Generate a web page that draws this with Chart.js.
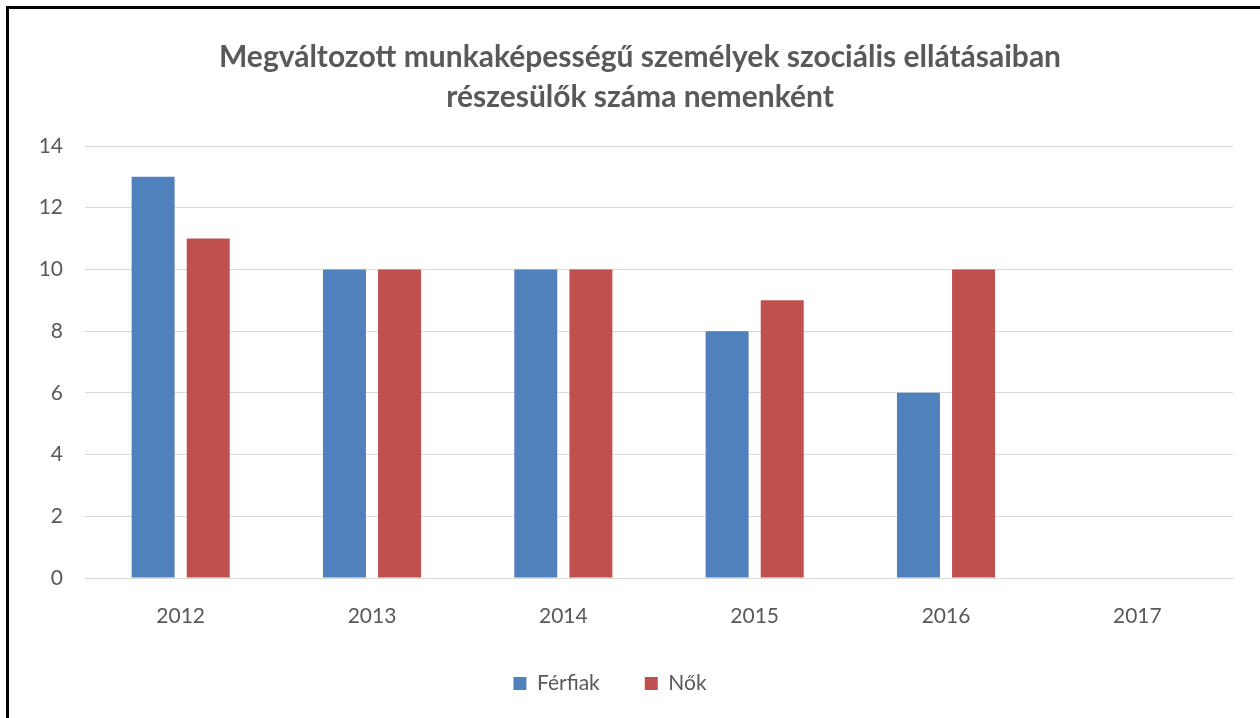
<!DOCTYPE html>
<html>
<head>
<meta charset="utf-8">
<script src="https://cdn.jsdelivr.net/npm/chart.js@4/dist/chart.umd.min.js"></script>
<style>
  html, body { margin: 0; padding: 0; background: #fff; overflow: hidden; }
  #wrap { position: relative; width: 1260px; height: 718px; }
  #frame { position: absolute; left: 6px; top: 6px; width: 1300px; height: 800px; border: 3px solid #000; box-sizing: border-box; pointer-events: none; }
</style>
</head>
<body>
<div id="wrap">
  <canvas id="chart" width="1260" height="718"></canvas>
  <div id="frame"></div>
</div>
<script>
var years = ['2012', '2013', '2014', '2015', '2016', '2017'];
var ferfiak = [13, 10, 10, 8, 6, null];
var nok = [11, 10, 10, 9, 10, null];
var titleLines = ['Megváltozott munkaképességű személyek szociális ellátásaiban', 'részesülők száma nemenként'];

var textColor = '#595959';
var fontFamily = 'Lato, "Open Sans", sans-serif';

// legend sits a bit left of centre in the original
var legendShift = {
    id: 'legendShift',
    afterLayout: function(chart) {
        chart.legend.left -= 30;
        chart.legend.right -= 30;
    }
};

var ctx = document.getElementById('chart').getContext('2d');
new Chart(ctx, {
    type: 'bar',
    data: {
        labels: years,
        datasets: [{
            label: 'Férfiak',
            data: ferfiak,
            backgroundColor: '#4F81BD'
        }, {
            label: 'Nők',
            data: nok,
            backgroundColor: '#C0504D'
        }]
    },
    options: {
        responsive: false,
        animation: false,
        categoryPercentage: 0.576,
        barPercentage: 0.78,
        layout: { padding: { left: 20, right: 0, top: 0, bottom: 14 } },
        plugins: {
            title: {
                display: true,
                text: titleLines,
                color: textColor,
                font: { family: fontFamily, size: 30, weight: 'bold', lineHeight: 40 / 30 },
                padding: { top: 37, bottom: 29 }
            },
            legend: {
                position: 'bottom',
                labels: {
                    color: textColor,
                    font: { family: fontFamily, size: 21 },
                    boxWidth: 13,
                    boxHeight: 13,
                    padding: 45
                }
            },
            tooltip: { enabled: false }
        },
        scales: {
            x: {
                grid: { display: false },
                border: { color: '#D9D9D9' },
                ticks: { color: textColor, font: { family: fontFamily, size: 21, lineHeight: 1 }, padding: 20 },
                afterFit: function(scale) { scale.height = 50; }
            },
            y: {
                min: 0,
                max: 14,
                ticks: { stepSize: 2, color: textColor, font: { family: fontFamily, size: 21 }, padding: 22 },
                grid: { color: '#D9D9D9', drawTicks: false },
                border: { display: false },
                afterFit: function(scale) { scale.width = 65; }
            },
            yRight: {
                position: 'right',
                min: 0,
                max: 14,
                ticks: { display: false },
                grid: { display: false },
                border: { display: false },
                afterFit: function(scale) { scale.width = 27; }
            }
        }
    },
    plugins: [legendShift]
});
</script>
</body>
</html>
